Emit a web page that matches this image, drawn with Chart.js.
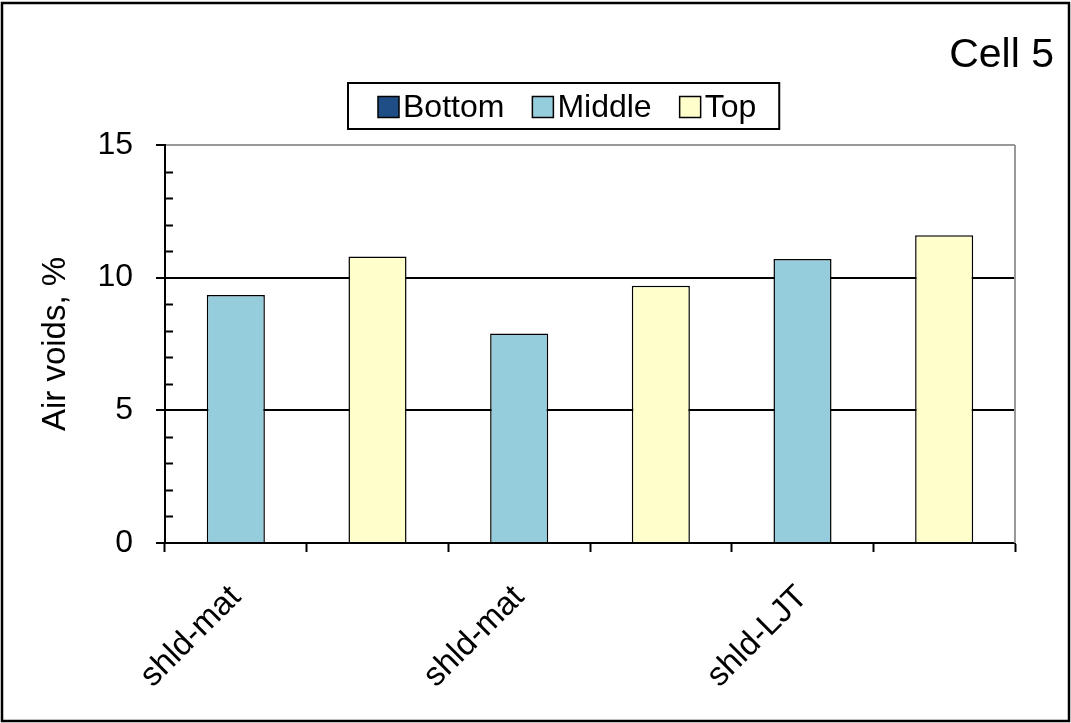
<!DOCTYPE html>
<html>
<head>
<meta charset="utf-8">
<script src="https://cdn.jsdelivr.net/npm/chart.js@4.4.1/dist/chart.umd.min.js"></script>
<style>
  html, body { margin: 0; padding: 0; background: #fff; overflow: hidden; }
  #wrap { width: 1071px; height: 723px; position: relative; }
</style>
</head>
<body>
<div id="wrap"><canvas id="chart-voids"></canvas></div>
<script>
const categorias = ['shld-mat', '', 'shld-mat', '', 'shld-LJT', ''];
const valoresBottom = [null, null, null, null, null, null];
const valoresMiddle = [9.35, null, 7.9, null, 10.7, null];
const valoresTop = [null, 10.8, null, 9.7, null, 11.6];
const ticksY = [0, 5, 10, 15];
const tituloCelda = 'Cell 5';
const tituloEjeY = 'Air voids, %';

const FUENTE = '"Liberation Sans", Arial, sans-serif';

// minor ticks, legend box, outer frame and the cell label
const extrasPlugin = {
    id: 'extras',
    beforeDraw(chart) {
        const ctx = chart.ctx;
        ctx.save();
        ctx.fillStyle = '#fff';
        ctx.fillRect(0, 0, chart.width, chart.height);
        ctx.restore();
    },
    afterDraw(chart) {
        const ctx = chart.ctx;
        const area = chart.chartArea;
        const y = chart.scales.y;
        ctx.save();

        // right border of the plot area
        ctx.strokeStyle = '#999';
        ctx.lineWidth = 2;
        ctx.beginPath();
        ctx.moveTo(area.right, area.top);
        ctx.lineTo(area.right, area.bottom);
        ctx.stroke();

        // minor ticks inside the y axis
        ctx.strokeStyle = '#000';
        ctx.lineWidth = 2;
        for (let v = y.min; v <= y.max; v += 1) {
            if (v % 5 === 0) continue;
            const py = Math.round(y.getPixelForValue(v)) + 0.5;
            ctx.beginPath();
            ctx.moveTo(area.left, py);
            ctx.lineTo(area.left + 8, py);
            ctx.stroke();
        }

        // legend
        ctx.font = '32px ' + FUENTE;
        ctx.textBaseline = 'middle';
        ctx.textAlign = 'left';
        const items = chart.data.datasets.map(ds => ({
            label: ds.label,
            color: ds.backgroundColor,
            w: ctx.measureText(ds.label).width
        }));
        const sw = 21, gapTxt = 4, gapItem = 28, padL = 30, padR = 23;
        const contenido = items.reduce((a, it) => a + sw + gapTxt + it.w, 0) + gapItem * (items.length - 1);
        const boxW = contenido + padL + padR;
        const boxTop = 83, boxH = 46;
        const boxLeft = Math.round(564 - boxW / 2);
        ctx.lineWidth = 2;
        ctx.strokeStyle = '#000';
        ctx.strokeRect(boxLeft, boxTop, boxW, boxH);
        let x = boxLeft + padL;
        const cy = boxTop + boxH / 2 + 1;
        items.forEach(it => {
            ctx.fillStyle = it.color;
            ctx.fillRect(x, cy - sw / 2, sw, sw);
            ctx.lineWidth = 1.5;
            ctx.strokeRect(x, cy - sw / 2, sw, sw);
            ctx.fillStyle = '#000';
            ctx.fillText(it.label, x + sw + gapTxt, cy + 1);
            x += sw + gapTxt + it.w + gapItem;
        });

        // cell label
        ctx.font = '41px ' + FUENTE;
        ctx.textAlign = 'right';
        ctx.textBaseline = 'alphabetic';
        ctx.fillStyle = '#000';
        ctx.fillText(tituloCelda, 1054, 67);

        // outer frame
        ctx.lineWidth = 2.5;
        ctx.strokeStyle = '#000';
        ctx.strokeRect(2, 3, 1067, 718);
        ctx.restore();
    }
};

const ctxVoids = document.getElementById('chart-voids').getContext('2d');
const chartVoids = new Chart(ctxVoids, {
    type: 'bar',
    data: {
        labels: categorias,
        datasets: [
            { label: 'Bottom', data: valoresBottom, backgroundColor: '#1F4E86', borderColor: '#000', borderWidth: 1.5 },
            { label: 'Middle', data: valoresMiddle, backgroundColor: '#96CDDD', borderColor: '#000', borderWidth: 1.5 },
            { label: 'Top', data: valoresTop, backgroundColor: '#FFFFCC', borderColor: '#000', borderWidth: 1.5 }
        ]
    },
    options: {
        responsive: true,
        maintainAspectRatio: false,
        animation: false,
        layout: { padding: { top: 145, right: 56, left: 0, bottom: 0 } },
        datasets: { bar: { barPercentage: 0.41, categoryPercentage: 1 } },
        plugins: {
            legend: { display: false },
            tooltip: { enabled: false },
            title: { display: false }
        },
        scales: {
            x: {
                stacked: true,
                afterFit: (s) => { s.height = 180; },
                border: { color: '#000', width: 2 },
                grid: { display: true, drawOnChartArea: false, offset: true, tickLength: 9, tickColor: '#000', tickWidth: 2 },
                ticks: {
                    autoSkip: false,
                    maxRotation: 45,
                    minRotation: 45,
                    padding: 26,
                    color: '#000',
                    font: { family: FUENTE, size: 33 }
                }
            },
            y: {
                stacked: true,
                min: 0,
                max: 15,
                afterFit: (s) => { s.width = 165; },
                afterBuildTicks: (s) => { s.ticks = ticksY.map(v => ({ value: v })); },
                border: { color: '#000', width: 2 },
                grid: {
                    color: (c) => (c.tick && c.tick.value === 15 ? '#999' : '#000'),
                    lineWidth: 2,
                    tickLength: 9,
                    tickColor: '#000',
                    tickWidth: 2
                },
                ticks: {
                    padding: 23,
                    color: '#000',
                    font: { family: FUENTE, size: 32 }
                },
                title: {
                    display: true,
                    text: tituloEjeY,
                    color: '#000',
                    font: { family: FUENTE, size: 33 },
                    padding: { top: 36, bottom: 0 }
                }
            }
        }
    },
    plugins: [extrasPlugin]
});
</script>
</body>
</html>
